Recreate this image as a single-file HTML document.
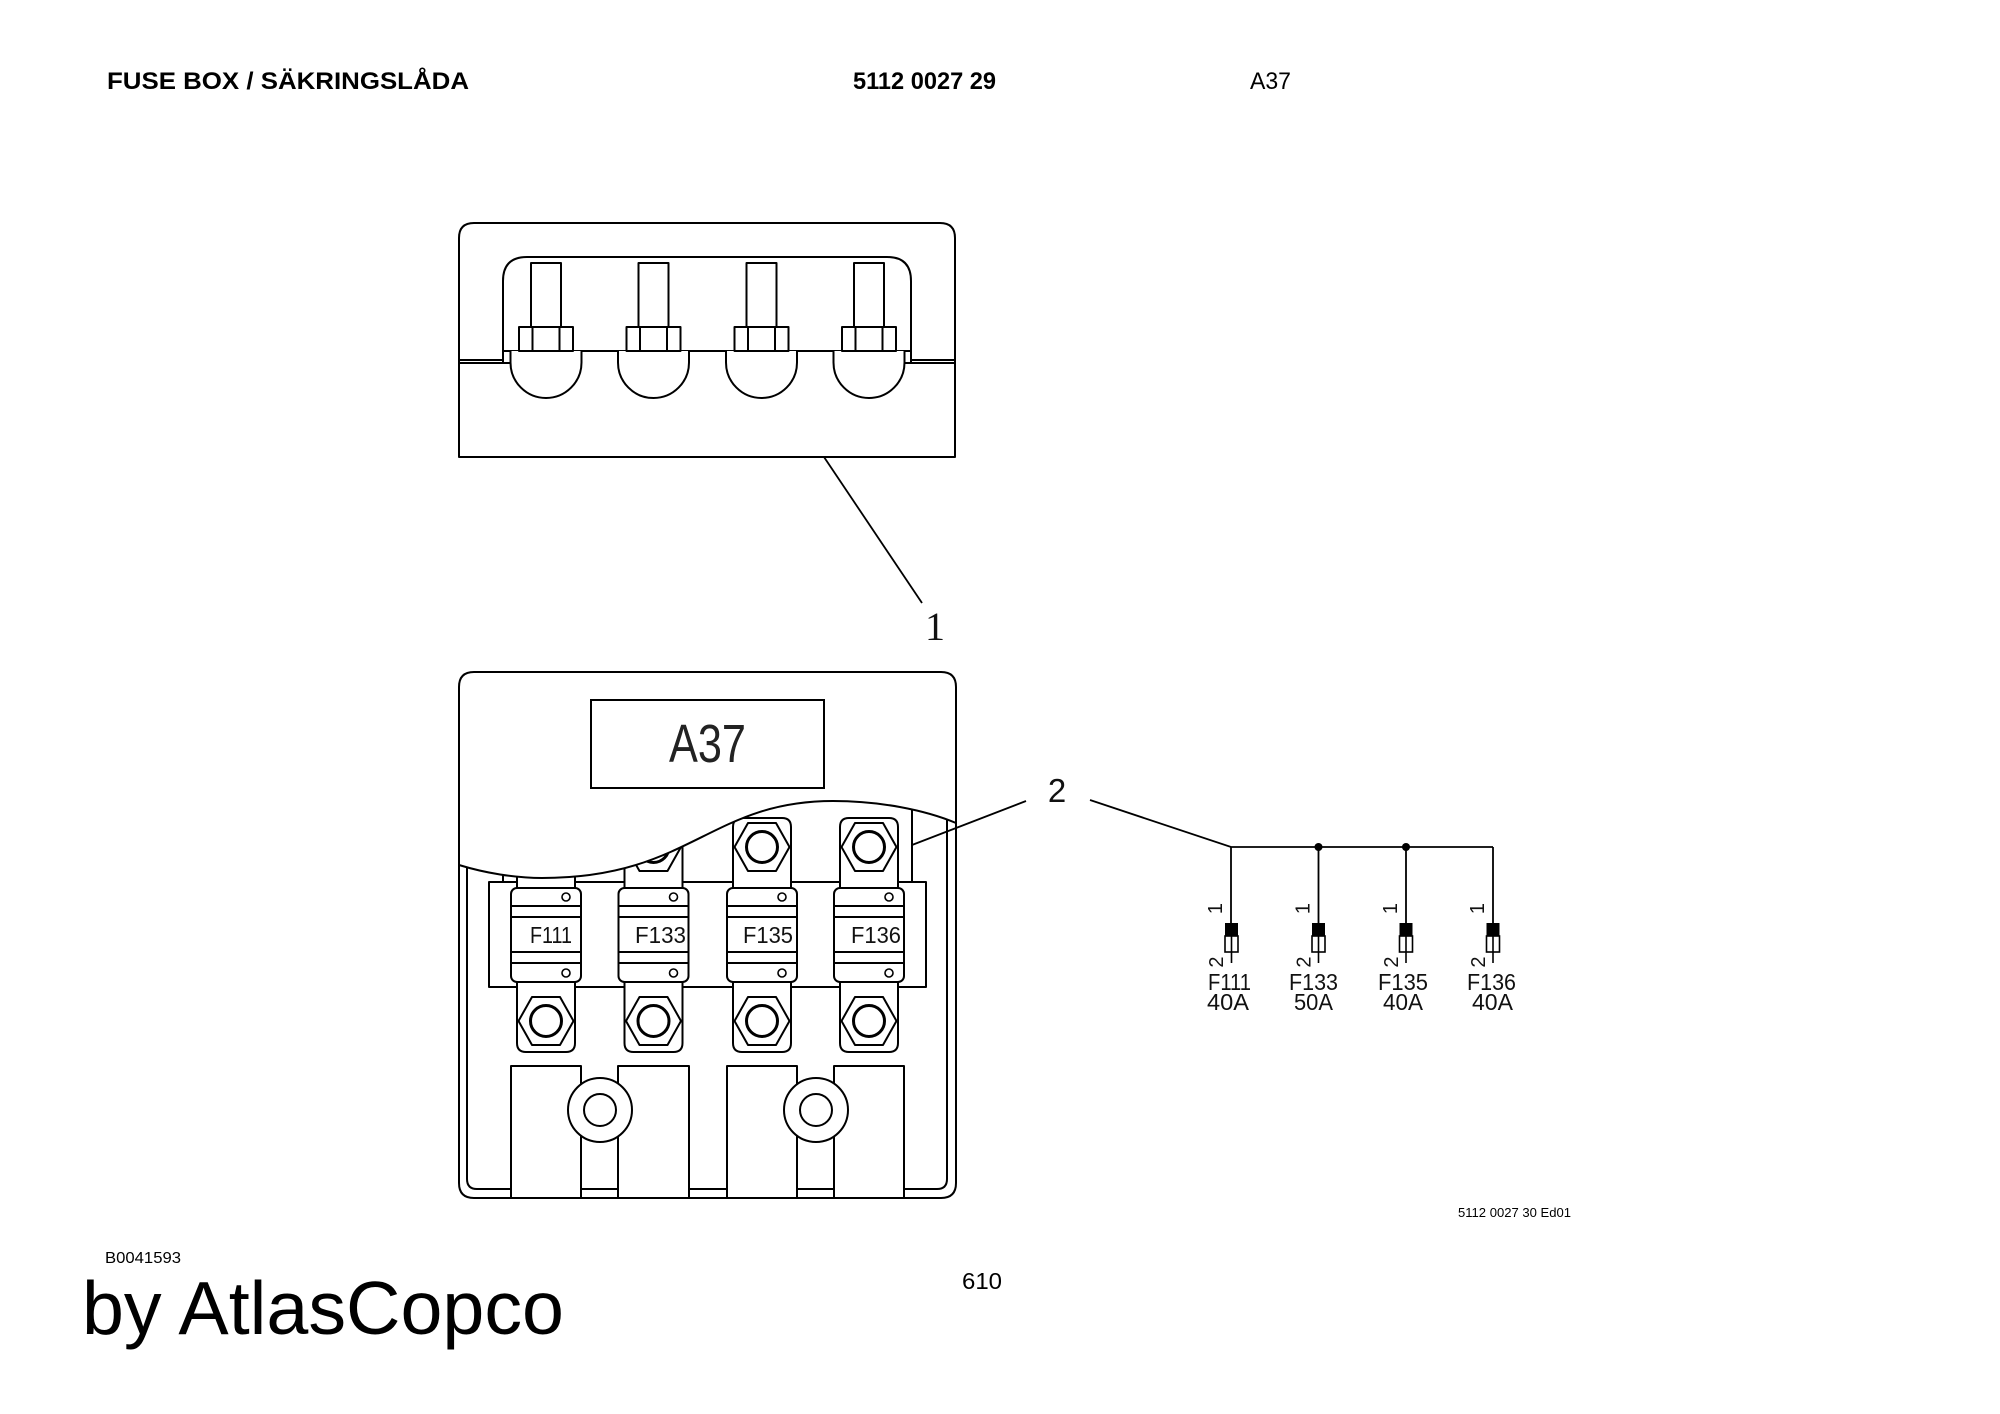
<!DOCTYPE html>
<html><head><meta charset="utf-8"><style>
html,body{margin:0;padding:0;background:#fff;}
svg{display:block;}
</style></head><body>
<svg width="2000" height="1414" viewBox="0 0 2000 1414" xmlns="http://www.w3.org/2000/svg">
<defs>
  <g id="topfix">
    <path d="M-35.5,351 V362.5 A35.5,35.5 0 0 0 35.5,362.5 V351" fill="#fff"/>
    <rect x="-15" y="263" width="30" height="64" fill="#fff"/>
    <rect x="-27" y="327" width="54" height="24" fill="#fff"/>
    <path d="M-13.5,327 V351 M13.5,327 V351"/>
  </g>
  <g id="hex">
    <polygon points="-27.5,0 -14,-24 14,-24 27.5,0 14,24 -14,24" fill="#fff"/>
    <circle cx="0" cy="0" r="15.5" stroke-width="3" fill="#fff"/>
  </g>
  <g id="fuse">
    <path d="M-29,888 V827 Q-29,818 -20,818 H20 Q29,818 29,827 V888" fill="#fff"/>
    <path d="M-29,982 V1043 Q-29,1052 -20,1052 H20 Q29,1052 29,1043 V982" fill="#fff"/>
    <use href="#hex" transform="translate(0,847)"/>
    <use href="#hex" transform="translate(0,1021)"/>
    <rect x="-35" y="888" width="70" height="94" rx="6" fill="#fff"/>
    <path d="M-35,906 H35 M-35,917 H35 M-35,952 H35 M-35,963 H35"/>
    <circle cx="20" cy="897" r="4" fill="#fff" stroke-width="1.6"/>
    <circle cx="20" cy="973" r="4" fill="#fff" stroke-width="1.6"/>
  </g>
  <g id="sfuse">
    <rect x="-6.5" y="923" width="13" height="13" fill="#000" stroke="none"/>
    <rect x="-6.5" y="936" width="13" height="16" fill="#fff" stroke-width="1.6"/>
    <path d="M0,936 V963" stroke-width="1.6"/>
  </g>
</defs>

<!-- header -->
<g font-family="Liberation Sans, Arial, sans-serif" fill="#000">
  <text x="107" y="89" font-size="24" font-weight="bold" textLength="362" lengthAdjust="spacingAndGlyphs">FUSE BOX / SÄKRINGSLÅDA</text>
  <text x="853" y="89" font-size="24" font-weight="bold" textLength="143" lengthAdjust="spacingAndGlyphs">5112 0027 29</text>
  <text x="1250" y="89" font-size="24" textLength="41" lengthAdjust="spacingAndGlyphs">A37</text>
</g>

<g stroke="#000" stroke-width="2" fill="none" stroke-linejoin="round">
  <!-- ===== top view (item 1) ===== -->
  <path d="M459,457 V238 Q459,223 474,223 H940 Q955,223 955,238 V457 Z" fill="#fff"/>
  <path d="M503,351 V281 Q503,257 527,257 H887 Q911,257 911,281 V351"/>
  <path d="M503,351 H911"/>
  <path d="M503,351 V363 H510 M911,351 V363 H904"/>
  <path d="M459,360 H503 M459,363 H510 M955,360 H911 M955,363 H904"/>
  <use href="#topfix" transform="translate(546,0)"/>
  <use href="#topfix" transform="translate(653.5,0)"/>
  <use href="#topfix" transform="translate(761.5,0)"/>
  <use href="#topfix" transform="translate(869,0)"/>
  <!-- leader 1 -->
  <path d="M824,457 L922,603" stroke-width="1.8"/>

  <!-- ===== front view (item 2) ===== -->
  <path d="M467,830 V1179 Q467,1189 477,1189 H937 Q947,1189 947,1179 V800"/>
  <path d="M503,800 V882 M912,800 V882"/>
  <rect x="489" y="882" width="437" height="105" fill="#fff"/>
  <!-- bottom blocks -->
  <rect x="511" y="1066" width="70" height="132" fill="#fff"/>
  <rect x="618" y="1066" width="71" height="132" fill="#fff"/>
  <rect x="727" y="1066" width="70" height="132" fill="#fff"/>
  <rect x="834" y="1066" width="70" height="132" fill="#fff"/>
  <circle cx="600" cy="1110" r="32" fill="#fff"/>
  <circle cx="600" cy="1110" r="16"/>
  <circle cx="816" cy="1110" r="32" fill="#fff"/>
  <circle cx="816" cy="1110" r="16"/>
  <!-- fuses -->
  <use href="#fuse" transform="translate(546,0)"/>
  <use href="#fuse" transform="translate(653.5,0)"/>
  <use href="#fuse" transform="translate(762,0)"/>
  <use href="#fuse" transform="translate(869,0)"/>
</g>
<g font-family="Liberation Sans, Arial, sans-serif" fill="#111" font-size="23">
  <text x="530" y="943" textLength="42" lengthAdjust="spacingAndGlyphs">F111</text>
  <text x="635" y="943" textLength="51" lengthAdjust="spacingAndGlyphs">F133</text>
  <text x="743" y="943" textLength="50" lengthAdjust="spacingAndGlyphs">F135</text>
  <text x="851" y="943" textLength="50" lengthAdjust="spacingAndGlyphs">F136</text>
</g>
<g stroke="#000" stroke-width="2" fill="none">
  <!-- cover above wave -->
  <path d="M459,672 H956 V823 C925,810 880,801 833,801 C710,801 690,878 542,878 C515,878 485,873 459,865 Z" fill="#fff" stroke="none"/>
  <path d="M459,865 C485,873 515,878 542,878 C690,878 710,801 833,801 C880,801 925,810 956,823"/>
  <rect x="591" y="700" width="233" height="88" fill="#fff"/>
  <path d="M474,672 H941 Q956,672 956,687 V1183 Q956,1198 941,1198 H474 Q459,1198 459,1183 V687 Q459,672 474,672 Z"/>
  <!-- leader 2 -->
  <path d="M912,845 L1026,801" stroke-width="1.8"/>

  <!-- ===== schematic ===== -->
  <path d="M1090,800 L1231,847 H1493" stroke-width="1.8"/>
  <path d="M1231,847 V923 M1318.5,847 V923 M1406,847 V923 M1493,847 V923" stroke-width="1.8"/>
  <circle cx="1318.5" cy="847" r="4" fill="#000" stroke="none"/>
  <circle cx="1406" cy="847" r="4" fill="#000" stroke="none"/>
  <use href="#sfuse" transform="translate(1231.5,0)"/>
  <use href="#sfuse" transform="translate(1318.5,0)"/>
  <use href="#sfuse" transform="translate(1406,0)"/>
  <use href="#sfuse" transform="translate(1493,0)"/>
</g>

<g font-family="Liberation Sans, Arial, sans-serif" fill="#000">
  <text x="707.5" y="762" font-size="54" text-anchor="middle" textLength="77" lengthAdjust="spacingAndGlyphs" fill="#222">A37</text>
  <text x="1057" y="802" font-size="33" text-anchor="middle" fill="#111">2</text>
</g>
<text x="935" y="640" font-family="Liberation Serif, serif" font-size="40" text-anchor="middle" fill="#111">1</text>

<!-- schematic labels -->
<g font-family="Liberation Sans, Arial, sans-serif" fill="#111" font-size="23" text-anchor="middle">
  <text x="1229.5" y="990" textLength="43" lengthAdjust="spacingAndGlyphs">F111</text>
  <text x="1228" y="1010" textLength="42" lengthAdjust="spacingAndGlyphs">40A</text>
  <text x="1313.5" y="990" textLength="49" lengthAdjust="spacingAndGlyphs">F133</text>
  <text x="1313.5" y="1010" textLength="39" lengthAdjust="spacingAndGlyphs">50A</text>
  <text x="1403" y="990" textLength="50" lengthAdjust="spacingAndGlyphs">F135</text>
  <text x="1403" y="1010" textLength="40" lengthAdjust="spacingAndGlyphs">40A</text>
  <text x="1491.5" y="990" textLength="49" lengthAdjust="spacingAndGlyphs">F136</text>
  <text x="1492.5" y="1010" textLength="41" lengthAdjust="spacingAndGlyphs">40A</text>
</g>
<g font-family="Liberation Sans, Arial, sans-serif" fill="#111" font-size="20" text-anchor="middle" dominant-baseline="central">
  <text transform="translate(1216,908.5) rotate(-90)">1</text>
  <text transform="translate(1217,962) rotate(-90)">2</text>
  <text transform="translate(1303.5,908.5) rotate(-90)">1</text>
  <text transform="translate(1304.5,962) rotate(-90)">2</text>
  <text transform="translate(1391,908.5) rotate(-90)">1</text>
  <text transform="translate(1392,962) rotate(-90)">2</text>
  <text transform="translate(1478,908.5) rotate(-90)">1</text>
  <text transform="translate(1479,962) rotate(-90)">2</text>
</g>

<!-- footer -->
<g font-family="Liberation Sans, Arial, sans-serif" fill="#000">
  <text x="1458" y="1217" font-size="13" textLength="113" lengthAdjust="spacingAndGlyphs">5112 0027 30 Ed01</text>
  <text x="105" y="1263" font-size="16" textLength="76" lengthAdjust="spacingAndGlyphs">B0041593</text>
  <text x="962" y="1289" font-size="23" textLength="40" lengthAdjust="spacingAndGlyphs">610</text>
  <text x="82" y="1334" font-size="75" textLength="482" lengthAdjust="spacingAndGlyphs">by AtlasCopco</text>
</g>
</svg>
</body></html>
